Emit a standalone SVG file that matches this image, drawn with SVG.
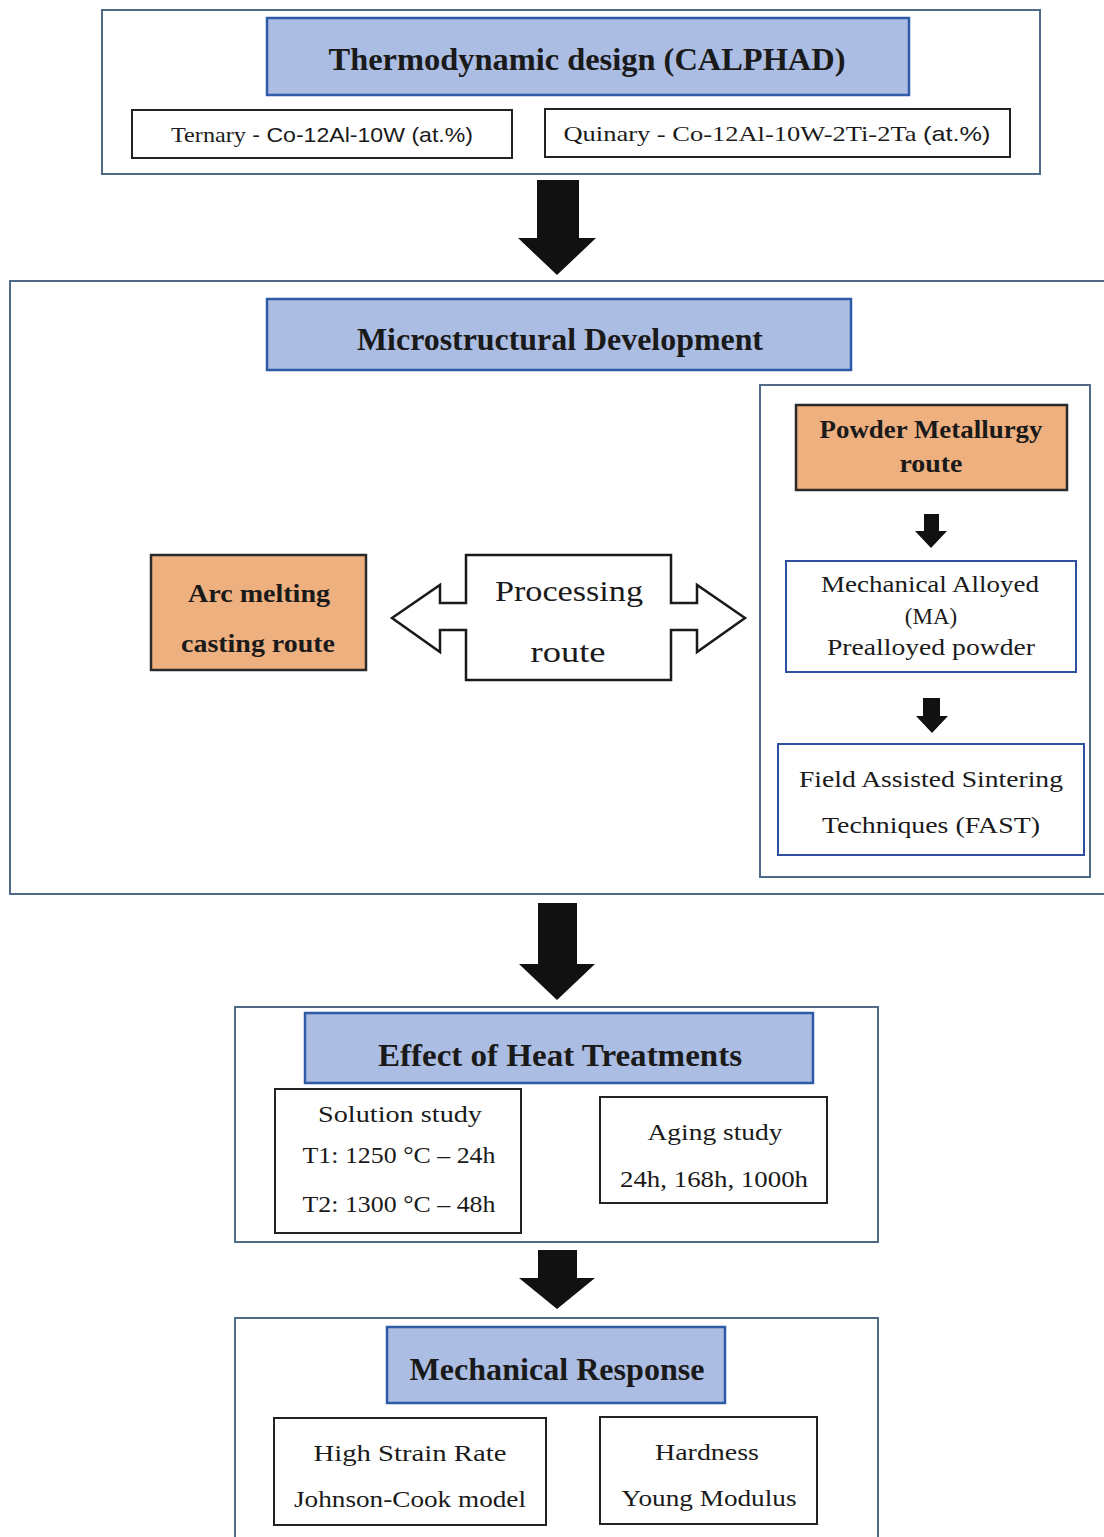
<svg xmlns="http://www.w3.org/2000/svg" width="1104" height="1537" viewBox="0 0 1104 1537">
<style>
.outer{fill:#fff;stroke:#4f6b88;stroke-width:2}
.head{fill:#acbde3;stroke:#2f5aa6;stroke-width:2.5}
.orange{fill:#efb080;stroke:#2a2a2a;stroke-width:2.5}
.box{fill:#fff;stroke:#222;stroke-width:2}
.bbox{fill:#fff;stroke:#2f4fa0;stroke-width:2}
.arrow{fill:#111}
text{font-family:"Liberation Serif","Times New Roman",serif;fill:#1a1a1a;text-anchor:middle}
.t{font-weight:bold;font-size:31px}
.b{font-weight:bold;font-size:25px}
.r{font-size:23px}
.s{font-family:"Liberation Sans",Arial,sans-serif;font-size:21px}
</style>
<rect width="1104" height="1537" fill="#fff"/>

<g id="design">
<rect class="outer" x="102" y="10" width="938" height="164"/>
<g id="calphad"><rect class="head" x="267" y="18" width="642" height="77"/>
<text class="t" x="587" y="70" textLength="517" lengthAdjust="spacingAndGlyphs">Thermodynamic design (CALPHAD)</text></g>
<g id="ternary"><rect class="box" x="132" y="110" width="380" height="48"/>
<text x="322" y="142" style="font-size:22px" textLength="302" lengthAdjust="spacingAndGlyphs">Ternary<tspan class="s"> - Co-12Al-10W (at.%)</tspan></text></g>
<g id="quinary"><rect class="box" x="545" y="109" width="465" height="48"/>
<text x="777" y="141" style="font-size:22px" textLength="427" lengthAdjust="spacingAndGlyphs">Quinary - Co-12Al-10W-2Ti-2Ta  <tspan class="s">(at.%)</tspan></text></g>
</g>

<g id="micro">
<rect class="outer" x="10" y="281" width="1110" height="613"/>
<g id="microhead"><rect class="head" x="267" y="299" width="584" height="71"/>
<text class="t" x="560" y="350" textLength="406" lengthAdjust="spacingAndGlyphs">Microstructural Development</text></g>
<g id="arc"><rect class="orange" x="151" y="555" width="215" height="115"/>
<text class="b" x="259" y="602" textLength="142" lengthAdjust="spacingAndGlyphs">Arc melting</text>
<text class="b" x="258" y="652" textLength="154" lengthAdjust="spacingAndGlyphs">casting route</text></g>
<g id="processing">
<path d="M392,618 L440,585 L440,603 L466,603 L466,555 L671,555 L671,603 L697,603 L697,585 L745,618 L697,652 L697,630 L671,630 L671,680 L466,680 L466,630 L440,630 L440,652 Z" fill="#fff" stroke="#1a1a1a" stroke-width="2.5" stroke-linejoin="miter"/>
<text x="569" y="601" style="font-size:30px" textLength="148" lengthAdjust="spacingAndGlyphs">Processing</text>
<text x="568" y="662" style="font-size:30px" textLength="75" lengthAdjust="spacingAndGlyphs">route</text></g>
<g id="pmpanel"><rect class="outer" x="760" y="385" width="330" height="492"/></g>
<g id="pm"><rect class="orange" x="796" y="405" width="271" height="85"/>
<text class="b" x="931" y="438" textLength="223" lengthAdjust="spacingAndGlyphs">Powder Metallurgy</text>
<text class="b" x="931" y="472" textLength="63" lengthAdjust="spacingAndGlyphs">route</text></g>
<g id="ma"><rect class="bbox" x="786" y="561" width="290" height="111"/>
<text class="r" x="930" y="592" textLength="218" lengthAdjust="spacingAndGlyphs">Mechanical Alloyed</text>
<text class="r" x="931" y="624">(MA)</text>
<text class="r" x="931" y="655" textLength="208" lengthAdjust="spacingAndGlyphs">Prealloyed powder</text></g>
<g id="fast"><rect class="bbox" x="778" y="744" width="306" height="111"/>
<text class="r" x="931" y="787" textLength="264" lengthAdjust="spacingAndGlyphs">Field Assisted Sintering</text>
<text class="r" x="931" y="833" textLength="218" lengthAdjust="spacingAndGlyphs">Techniques (FAST)</text></g>
</g>

<g id="heat">
<rect class="outer" x="235" y="1007" width="643" height="235"/>
<g id="heathead"><rect class="head" x="305" y="1013" width="508" height="70"/>
<text class="t" x="560" y="1066" textLength="364" lengthAdjust="spacingAndGlyphs">Effect of  Heat Treatments</text></g>
<g id="solution"><rect class="box" x="275" y="1089" width="246" height="144"/>
<text class="r" x="400" y="1122" textLength="164" lengthAdjust="spacingAndGlyphs">Solution study</text>
<text class="r" x="399" y="1163" textLength="193" lengthAdjust="spacingAndGlyphs">T1: 1250 °C – 24h</text>
<text class="r" x="399" y="1212" textLength="193" lengthAdjust="spacingAndGlyphs">T2: 1300 °C – 48h</text></g>
<g id="aging"><rect class="box" x="600" y="1097" width="227" height="106"/>
<text class="r" x="715" y="1140" textLength="135" lengthAdjust="spacingAndGlyphs">Aging study</text>
<text class="r" x="714" y="1187" textLength="188" lengthAdjust="spacingAndGlyphs">24h, 168h, 1000h</text></g>
</g>

<g id="mech">
<rect class="outer" x="235" y="1318" width="643" height="240"/>
<g id="mechhead"><rect class="head" x="387" y="1327" width="338" height="76"/>
<text class="t" x="557" y="1380" textLength="295" lengthAdjust="spacingAndGlyphs">Mechanical Response</text></g>
<g id="strain"><rect class="box" x="274" y="1418" width="272" height="107"/>
<text class="r" x="410" y="1461" textLength="193" lengthAdjust="spacingAndGlyphs">High Strain Rate</text>
<text class="r" x="410" y="1507" textLength="232" lengthAdjust="spacingAndGlyphs">Johnson-Cook model</text></g>
<g id="hardness"><rect class="box" x="600" y="1417" width="217" height="107"/>
<text class="r" x="707" y="1460" textLength="104" lengthAdjust="spacingAndGlyphs">Hardness</text>
<text class="r" x="709" y="1506" textLength="175" lengthAdjust="spacingAndGlyphs">Young Modulus</text></g>
</g>

<g id="connectors">
<polygon class="arrow" points="537,180 579,180 579,238 596,238 557,275 518,238 537,238"/>
<polygon class="arrow" points="538,903 577,903 577,964 595,964 557,1000 519,964 538,964"/>
<polygon class="arrow" points="538,1250 577,1250 577,1278 595,1278 557,1309 519,1278 538,1278"/>
<polygon class="arrow" points="924,514 939,514 939,531 947,531 931,548 915,531 924,531"/>
<polygon class="arrow" points="923,698 940,698 940,716 948,716 932,733 916,716 923,716"/>
</g>
</svg>
